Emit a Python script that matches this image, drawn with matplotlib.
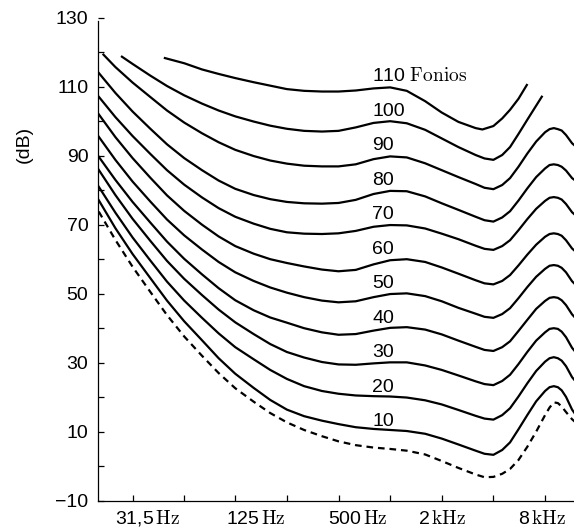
import numpy as np
import matplotlib
matplotlib.use("Agg")
import matplotlib.pyplot as plt

plt.rcParams['font.family'] = ['Liberation Sans', 'DejaVu Sans']
plt.rcParams['mathtext.fontset'] = 'cm'

# frequencies (Hz) shared by the threshold and the 10..80 phon curves
freqs = [20, 25, 31.5, 40, 50, 63, 80, 100, 125, 160, 200, 250, 315, 400, 500,
         630, 800, 1000, 1250, 1600, 2000, 2500, 3150, 3550, 4000, 4500, 5000,
         5600, 6300, 7100, 8000, 8500, 9000, 9500, 10000, 10600, 11500, 12000]

umbral = [73.8, 65.6, 57.8, 50.5, 43.8, 37.6, 32, 27, 22.6, 18.7, 15.4, 12.7,
          10.5, 8.7, 7.2, 6.1, 5.4, 5, 4.5, 3.4, 1.5, -0.5, -2.4, -3.2, -3.1,
          -2.2, -0.8, 1.8, 5.6, 10, 14.8, 17, 18.5, 18.3, 17.3, 15.7, 13.6, 12.8]
f10 = [77.1, 69, 61.5, 54.5, 48, 42, 36.5, 31.3, 26.8, 22.7, 19.2, 16.4, 14.5,
       13.2, 12.2, 11.3, 10.8, 10.5, 10.2, 9.4, 8.0, 6.3, 4.5, 3.6, 3.3, 4.7, 6.9,
       10.7, 14.8, 18.8, 21.8, 22.9, 23.2, 22.9, 22.0, 20.1, 16.4, 15.1]
f20 = [81, 73.5, 66.3, 59.6, 53.5, 48, 43, 38.5, 34.5, 31, 27.9, 25.3, 23.2, 21.8,
       21, 20.5, 20.3, 20.2, 19.9, 19.1, 17.9, 16.3, 14.6, 13.8, 13.5, 14.8,
       16.8, 20.2, 24.0, 27.6, 30.3, 31.3, 31.6, 31.3, 30.6, 29.0, 25.8, 24.7]
f30 = [85.9, 78.6, 71.7, 65.3, 59.5, 54.3, 49.6, 45.4, 41.7, 38.3, 35.4, 33.1,
       31.5, 30.2, 29.5, 29.4, 29.8, 30.1, 30.1, 29.2, 27.9, 26.3, 24.6, 23.8,
       23.5, 24.7, 26.5, 29.6, 33.1, 36.4, 38.8, 39.8, 40, 39.8, 39.0, 37.4, 34.3,
       33.2]
f40 = [89.7, 83, 76.6, 70.6, 65.1, 60.1, 55.6, 51.6, 48.1, 45.2, 43.1, 41.6, 40,
       38.8, 38.1, 38.3, 39.3, 40.1, 40.3, 39.6, 38.2, 36.4, 34.6, 33.7, 33.4,
       34.5, 36.2, 39.2, 42.4, 45.6, 47.9, 48.8, 49, 48.8, 48.1, 46.7, 44.0, 43.0]
f50 = [95.5, 88.8, 82.5, 76.7, 71.5, 66.9, 62.8, 59.2, 56.2, 53.7, 51.8, 50.3, 49,
       48, 47.5, 47.8, 49, 49.9, 50.1, 49.3, 47.8, 45.9, 44.2, 43.3, 43, 44.1,
       45.8, 48.7, 51.9, 54.9, 57.2, 58.1, 58.3, 58.1, 57.5, 56.2, 53.6, 52.7]
f60 = [102, 95.4, 89.3, 83.6, 78.5, 74, 70, 66.6, 63.8, 61.6, 60, 58.9, 57.9, 57,
       56.5, 56.9, 58.5, 59.7, 60.0, 59.2, 57.6, 55.8, 53.9, 53.0, 52.7, 53.7,
       55.4, 58.2, 61.3, 64.2, 66.5, 67.3, 67.5, 67.3, 66.8, 65.5, 63.1, 62.3]
f70 = [107.1, 101.2, 95.7, 90.5, 85.8, 81.6, 77.9, 74.8, 72.3, 70.3, 68.8, 67.8,
       67.4, 67.3, 67.5, 68.2, 69.4, 69.9, 69.8, 68.9, 67.4, 65.8, 63.9, 63.0,
       62.7, 63.8, 65.5, 68.4, 71.6, 74.6, 76.9, 77.8, 78, 77.8, 77.3, 76, 73.6,
       72.8]
f80 = [114, 108.2, 102.8, 97.8, 93.3, 89.3, 85.8, 82.8, 80.4, 78.6, 77.4, 76.6,
       76.2, 76.1, 76.3, 77.2, 78.9, 79.8, 79.7, 78.2, 76.2, 74.3, 72.3, 71.3,
       70.9, 72.1, 73.9, 77.0, 80.5, 83.8, 86.3, 87.3, 87.5, 87.3, 86.8, 85.7,
       83.5, 82.8]

freqs90 = [21.3] + freqs[1:]
f90 = [119.3, 115.7, 111.2, 107, 103.1, 99.6, 96.5, 93.9, 91.7, 89.9, 88.6, 87.7,
       87.1, 86.9, 86.9, 87.5, 89, 89.8, 89.5, 87.8, 85.8, 83.8, 81.8, 80.7, 80.3,
       81.5, 83.5, 86.8, 90.6, 94.1, 96.8, 97.7, 98, 97.7, 97.3, 96, 93.6, 92.8]

freqs100 = [27.3, 31.5, 40, 50, 63, 80, 100, 125, 160, 200, 250, 315, 400, 500,
            630, 800, 1000, 1250, 1600, 2000, 2500, 3150, 3550, 4000, 4500, 5000,
            5600, 6300, 7100, 7660]
f100 = [118.7, 116.6, 113.2, 110.2, 107.5, 105.1, 103.1, 101.4, 99.9, 98.7, 97.8,
        97.2, 97, 97.2, 98.2, 99.5, 100, 99.4, 97.5, 95, 92.5, 90.2, 89.2, 88.8,
        90.2, 92.5, 96.3, 100.4, 104.5, 107.1]

freqs110 = [48.6, 63, 80, 100, 125, 160, 200, 250, 315, 400, 500, 630, 800, 1000,
            1250, 1600, 2000, 2500, 3150, 3450, 4000, 4500, 5000, 5600, 6265]
f110 = [118.3, 116.8, 115, 113.7, 112.5, 111.3, 110.3, 109.3, 108.8, 108.6, 108.6,
        108.9, 109.5, 109.8, 108.8, 105.8, 102.5, 99.8, 98, 97.6, 98.6, 100.8,
        103.3, 106.5, 110.5]

niveles = [10, 20, 30, 40, 50, 60, 70, 80, 90, 100, 110]
curvas = [(freqs, f10), (freqs, f20), (freqs, f30), (freqs, f40), (freqs, f50),
          (freqs, f60), (freqs, f70), (freqs, f80), (freqs90, f90),
          (freqs100, f100), (freqs110, f110)]

octavas = [31.5, 63, 125, 250, 500, 1000, 2000, 4000, 8000]
etiq_x = ['31,5$\\,\\mathrm{Hz}$', '125$\\,\\mathrm{Hz}$', '500$\\,\\mathrm{Hz}$',
          '2$\\,\\mathrm{kHz}$', '8$\\,\\mathrm{kHz}$']
pos_etiq_x = [38.7, 164, 651, 2000, 7700]

fig = plt.figure(figsize=(5.74, 5.29), dpi=100)
ax = fig.add_axes([98/574, 28.3/529, 476/574, 483/529])

ax.plot(freqs, umbral, color='black', lw=1.6, ls=(0, (3, 2.2)))
for (fr, db) in curvas:
    ax.plot(fr, db, color='black', lw=1.6, solid_joinstyle='round')

for n in niveles:
    txt = str(n) if n != 110 else '110 $\\mathrm{Fonios}$'
    ax.text(785, n + 1.6, txt, fontsize=14, ha='left', va='baseline')

ax.set_xscale('log')
ax.set_xlim(19.8, 11800)
ax.set_ylim(-10, 130)

ax.spines['top'].set_visible(False)
ax.spines['right'].set_visible(False)
ax.spines['left'].set_bounds(-10, 129)
ax.spines['left'].set_linewidth(0.9)
ax.spines['bottom'].set_linewidth(0.9)

ax.set_xticks(octavas)
ax.set_xticklabels([])
ax.xaxis.set_minor_locator(matplotlib.ticker.NullLocator())
ax.set_yticks(np.arange(-10, 131, 20))
ax.set_yticks(np.arange(0, 121, 20), minor=True)
ax.tick_params(axis='both', which='both', direction='in', length=4.5, width=0.9)
ax.tick_params(axis='y', which='major', labelsize=14, pad=7)
ax.set_yticklabels([('\u2212' + str(-v)) if v < 0 else str(v)
                    for v in range(-10, 131, 20)])

for p, t in zip(pos_etiq_x, etiq_x):
    ax.text(p, -0.048, t, fontsize=14, ha='center', va='baseline',
            transform=ax.get_xaxis_transform())

ax.text(-0.155, 0.7385, '(dB)', fontsize=14, rotation=90, ha='center',
        va='center', transform=ax.transAxes)

fig.savefig('out.png', dpi=100)
